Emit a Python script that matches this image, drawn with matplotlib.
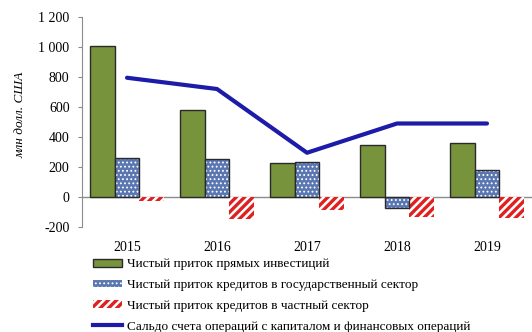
import matplotlib
matplotlib.use("Agg")
import matplotlib.pyplot as plt
import matplotlib.ticker as mticker
from matplotlib.patches import Patch
from matplotlib.lines import Line2D
import numpy as np

plt.rcParams['font.family'] = ['Liberation Serif', 'DejaVu Serif']

years = ["2015", "2016", "2017", "2018", "2019"]
fdi = [1005, 578, 225, 345, 358]
gov_loans = [262, 255, 232, -75, 180]
priv_loans = [-25, -145, -85, -130, -140]
capital_balance = [795, 720, 295, 490, 490]

labels = [
    "Чистый приток прямых инвестиций",
    "Чистый приток кредитов в государственный сектор",
    "Чистый приток кредитов в частный сектор",
    "Сальдо счета операций с капиталом и финансовых операций",
]

green = "#77933c"
blue_face = "#5a77b2"
red = "#e02020"
line_col = "#1c1ca8"
edge = "#2a2a2a"

fig = plt.figure(figsize=(5.32, 3.32), dpi=100)
ax = fig.add_axes([82 / 532, 1 - 227 / 332, 450 / 532, 210 / 332])

x = np.arange(len(years))
w = 0.275

# direct investment
ax.bar(x - w, fdi, w, color=green, edgecolor=edge, linewidth=1.0, zorder=3)
# public-sector loans: dotted fill, then outline
with plt.rc_context({'hatch.linewidth': 0.8}):
    ax.bar(x, gov_loans, w, color=blue_face, edgecolor="white", hatch="....",
           linewidth=0, zorder=3)
    gov_handle = Patch(facecolor=blue_face, edgecolor="white", hatch="....",
                       linewidth=0)
ax.bar(x, gov_loans, w, fill=False, edgecolor=edge, linewidth=1.0, zorder=4)
# private-sector loans: red diagonal stripes
with plt.rc_context({'hatch.linewidth': 2.4}):
    ax.bar(x + w, priv_loans, w, color="white", edgecolor=red, hatch="////",
           linewidth=0, zorder=3)
    priv_handle = Patch(facecolor="white", edgecolor=red, hatch="////",
                        linewidth=0)
# capital and financial account balance
ax.plot(x, capital_balance, color=line_col, linewidth=3.0,
        solid_capstyle="round", zorder=5)

ax.axhline(0, color="#8c8c8c", linewidth=1.0, zorder=2)

ax.set_xlim(-0.5, len(years) - 0.5)
ax.set_ylim(-200, 1200)
ax.yaxis.set_major_locator(mticker.MultipleLocator(200))
ax.yaxis.set_major_formatter(
    mticker.FuncFormatter(lambda v, p: f"{int(v):,}".replace(",", " ")))
ax.set_xticks(x)
ax.set_xticklabels(years)
ax.tick_params(axis="x", length=0, pad=10, labelsize=10)
ax.tick_params(axis="y", length=3, direction="out", color="#8c8c8c",
               labelsize=10, pad=6)
for s in ("top", "right", "bottom"):
    ax.spines[s].set_visible(False)
ax.spines["left"].set_color("#8c8c8c")

fig.text(20 / 532, 1 - 115 / 332, "млн долл. США", rotation=90, style="italic",
         fontsize=9.5, ha="center", va="center")

handles = [
    Patch(facecolor=green, edgecolor=edge, linewidth=1.0),
    gov_handle,
    priv_handle,
    Line2D([0], [0], color=line_col, linewidth=3.0),
]
with plt.rc_context({'hatch.linewidth': 2.4}):
    leg = fig.legend(handles, labels, loc="upper left",
                     bbox_to_anchor=(93 / 532, 1 - 258.5 / 332), frameon=False,
                     fontsize=9.5, handlelength=2.2, handleheight=0.5,
                     handletextpad=0.35, labelspacing=0.66, borderpad=0,
                     borderaxespad=0)
gov_leg_patch = leg.get_patches()[1]
if hasattr(gov_leg_patch, "set_hatch_linewidth"):
    gov_leg_patch.set_hatch_linewidth(0.8)

fig.savefig("out.png", dpi=100)
